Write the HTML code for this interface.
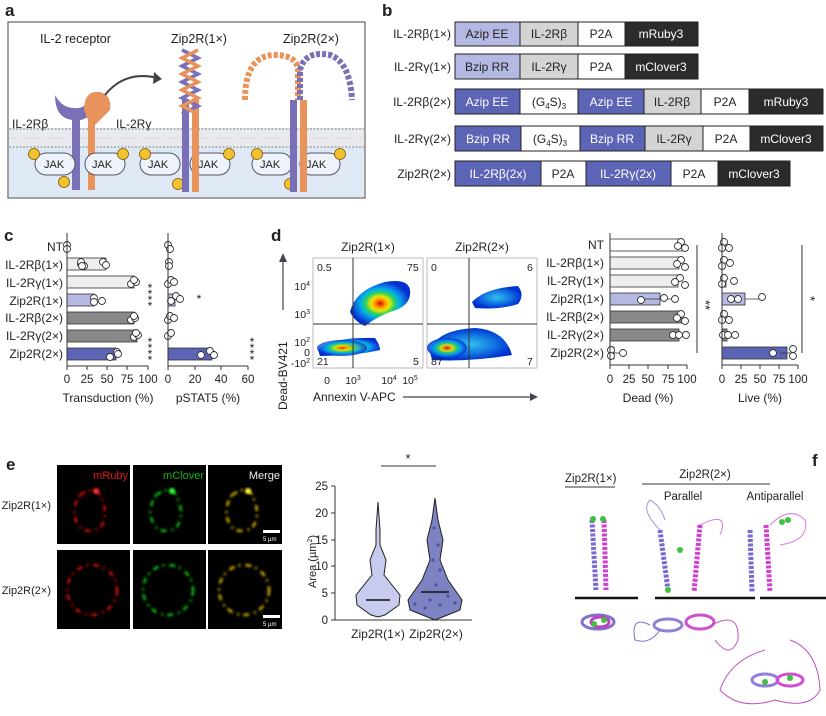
<!DOCTYPE html>
<html><head><meta charset="utf-8"><style>
body{margin:0;background:#fff}
text{font-family:"Liberation Sans",sans-serif;fill:#222}
</style></head><body>
<svg width="826" height="711" viewBox="0 0 826 711" xmlns="http://www.w3.org/2000/svg">
<defs>
<radialGradient id="fl" cx="50%" cy="50%" r="50%">
<stop offset="0" stop-color="#e00000"/><stop offset="0.18" stop-color="#ff9900"/><stop offset="0.32" stop-color="#e8e800"/><stop offset="0.48" stop-color="#30d060"/><stop offset="0.65" stop-color="#00b0e8"/><stop offset="0.85" stop-color="#1060e0"/><stop offset="1" stop-color="#0030d0"/>
</radialGradient>
<radialGradient id="fl2" cx="50%" cy="50%" r="50%">
<stop offset="0" stop-color="#30c0f0"/><stop offset="0.6" stop-color="#1070e0"/><stop offset="1" stop-color="#0030d0"/>
</radialGradient>
<filter id="bl"><feGaussianBlur stdDeviation="1.2"/></filter>
</defs>
<g font-size="12">
<text x="5" y="16" font-size="17" font-weight="bold">a</text>
<text x="382" y="16" font-size="17" font-weight="bold">b</text>
<text x="4" y="241" font-size="17" font-weight="bold">c</text>
<text x="271" y="241" font-size="17" font-weight="bold">d</text>
<text x="6" y="470" font-size="17" font-weight="bold">e</text>
<text x="812" y="466" font-size="17" font-weight="bold">f</text>

<!-- Panel a -->
<rect x="8" y="22" width="357" height="176" fill="#fff" stroke="#444" stroke-width="1"/>
<rect x="9" y="148" width="355" height="49" fill="#dfe9f6"/>
<rect x="9" y="128" width="355" height="20" fill="#e8eaee"/>
<line x1="9" y1="129" x2="364" y2="129" stroke="#9aa" stroke-width="1.5" stroke-dasharray="2 1.5"/>
<line x1="9" y1="147" x2="364" y2="147" stroke="#9aa" stroke-width="1.5" stroke-dasharray="2 1.5"/>
<line x1="9" y1="138" x2="364" y2="138" stroke="#bbb" stroke-width="0.8" stroke-dasharray="1 2"/>
<text x="40" y="43" font-size="12.5">IL-2 receptor</text>
<text x="171" y="43" font-size="12.5">Zip2R(1×)</text>
<text x="283" y="43" font-size="12.5">Zip2R(2×)</text>
<path d="M55 95 Q55 118 72 120 L72 190 L80 190 L80 120 Q95 118 93 95 Q85 110 74 108 Q62 108 55 95Z" fill="#7a70b8"/>
<path d="M84 110 Q84 90 100 92 Q112 95 110 110 L95 125 L95 190 L88 190 L88 120Z" fill="#e8935c"/>
<text x="12" y="128" font-size="12">IL-2Rβ</text>
<text x="116" y="128" font-size="12">IL-2Rγ</text>
<path d="M105 95 Q125 70 158 78" fill="none" stroke="#444" stroke-width="2"/>
<path d="M154 72 L162 79 L153 84Z" fill="#444"/>
<g font-size="11">
<rect x="35" y="153" width="40" height="22" rx="11" fill="#eef3fb" stroke="#556" /><text x="44" y="168">JAK</text>
<rect x="85" y="153" width="40" height="22" rx="11" fill="#eef3fb" stroke="#556" /><text x="92" y="168">JAK</text>
<rect x="140" y="153" width="40" height="22" rx="11" fill="#eef3fb" stroke="#556" /><text x="148" y="168">JAK</text>
<rect x="190" y="153" width="40" height="22" rx="11" fill="#eef3fb" stroke="#556" /><text x="198" y="168">JAK</text>
<rect x="252" y="153" width="40" height="22" rx="11" fill="#eef3fb" stroke="#556" /><text x="260" y="168">JAK</text>
<rect x="300" y="153" width="40" height="22" rx="11" fill="#eef3fb" stroke="#556" /><text x="306" y="168">JAK</text>
</g>
<g fill="#f2c230" stroke="#7a5a00" stroke-width="0.8">
<circle cx="34" cy="154" r="5.5"/><circle cx="123" cy="154" r="5.5"/><circle cx="64" cy="182" r="5.5"/>
<circle cx="145" cy="154" r="5.5"/><circle cx="229" cy="154" r="5.5"/><circle cx="178" cy="184" r="5.5"/>
<circle cx="257" cy="154" r="5.5"/><circle cx="340" cy="154" r="5.5"/><circle cx="290" cy="184" r="5.5"/>
</g>
<rect x="182" y="100" width="7" height="92" fill="#7a70b8"/><rect x="192" y="100" width="7" height="92" fill="#e8935c"/>
<path d="M182 50 l16 8 l-16 8 l16 8 l-16 8 l16 8 l-16 8 l16 8 l-16 8" fill="none" stroke="#7a70b8" stroke-width="3.5"/>
<path d="M198 50 l-16 8 l16 8 l-16 8 l16 8 l-16 8 l16 8 l-16 8 l16 8" fill="none" stroke="#e8935c" stroke-width="3.5"/>
<rect x="290" y="100" width="7" height="92" fill="#7a70b8"/><rect x="300" y="100" width="7" height="92" fill="#e8935c"/>
<path d="M245 100 Q245 55 275 55 Q300 55 298 75 L298 100" fill="none" stroke="#e8935c" stroke-width="6" stroke-dasharray="4 2"/>
<path d="M300 100 L300 70 Q305 50 330 55 Q350 62 352 100" fill="none" stroke="#7a70b8" stroke-width="6" stroke-dasharray="4 2"/>

<!-- Panel b -->
<g font-size="12" text-anchor="middle">
<g text-anchor="end"><text x="451" y="38">IL-2Rβ(1×)</text><text x="451" y="71">IL-2Rγ(1×)</text><text x="451" y="106">IL-2Rβ(2×)</text><text x="451" y="143">IL-2Rγ(2×)</text><text x="451" y="178">Zip2R(2×)</text></g>
<g stroke="#222" stroke-width="1">
<rect x="455" y="22" width="65" height="24" fill="#b5b8e2"/><rect x="520" y="22" width="58" height="24" fill="#d4d4d4"/><rect x="578" y="22" width="47" height="24" fill="#fff"/><rect x="625" y="22" width="73" height="24" fill="#2b2b2b"/>
<rect x="455" y="54" width="65" height="25" fill="#b5b8e2"/><rect x="520" y="54" width="58" height="25" fill="#d4d4d4"/><rect x="578" y="54" width="47" height="25" fill="#fff"/><rect x="625" y="54" width="73" height="25" fill="#2b2b2b"/>
<rect x="455" y="89" width="65" height="25" fill="#5c64b6"/><rect x="520" y="89" width="58" height="25" fill="#fff"/><rect x="578" y="89" width="66" height="25" fill="#5c64b6"/><rect x="644" y="89" width="57" height="25" fill="#d4d4d4"/><rect x="701" y="89" width="48" height="25" fill="#fff"/><rect x="749" y="89" width="74" height="25" fill="#2b2b2b"/>
<rect x="455" y="126" width="66" height="25" fill="#5c64b6"/><rect x="521" y="126" width="59" height="25" fill="#fff"/><rect x="580" y="126" width="65" height="25" fill="#5c64b6"/><rect x="645" y="126" width="58" height="25" fill="#d4d4d4"/><rect x="703" y="126" width="47" height="25" fill="#fff"/><rect x="750" y="126" width="73" height="25" fill="#2b2b2b"/>
<rect x="455" y="161" width="86" height="25" fill="#5c64b6"/><rect x="541" y="161" width="45" height="25" fill="#fff"/><rect x="586" y="161" width="85" height="25" fill="#5c64b6"/><rect x="671" y="161" width="47" height="25" fill="#fff"/><rect x="718" y="161" width="72" height="25" fill="#2b2b2b"/>
</g>
<text x="487" y="38">Azip EE</text><text x="549" y="38">IL-2Rβ</text><text x="601" y="38">P2A</text><text x="661" y="38" style="fill:#fff">mRuby3</text>
<text x="487" y="71">Bzip RR</text><text x="549" y="71">IL-2Rγ</text><text x="601" y="71">P2A</text><text x="661" y="71" style="fill:#fff">mClover3</text>
<text x="487" y="106" style="fill:#fff">Azip EE</text><text x="549" y="106">(G<tspan font-size="8" dy="3">4</tspan><tspan dy="-3">S)</tspan><tspan font-size="8" dy="3">3</tspan></text><text x="611" y="106" style="fill:#fff">Azip EE</text><text x="672" y="106">IL-2Rβ</text><text x="725" y="106">P2A</text><text x="786" y="106" style="fill:#fff">mRuby3</text>
<text x="488" y="143" style="fill:#fff">Bzip RR</text><text x="550" y="143">(G<tspan font-size="8" dy="3">4</tspan><tspan dy="-3">S)</tspan><tspan font-size="8" dy="3">3</tspan></text><text x="612" y="143" style="fill:#fff">Bzip RR</text><text x="674" y="143">IL-2Rγ</text><text x="726" y="143">P2A</text><text x="786" y="143" style="fill:#fff">mClover3</text>
<text x="498" y="178" style="fill:#fff">IL-2Rβ(2x)</text><text x="563" y="178">P2A</text><text x="628" y="178" style="fill:#fff">IL-2Rγ(2x)</text><text x="694" y="178">P2A</text><text x="754" y="178" style="fill:#fff">mClover3</text>
</g>

<!-- Panel c -->
<g font-size="12">
<g text-anchor="end"><text x="63" y="251">NT</text><text x="63" y="269">IL-2Rβ(1×)</text><text x="63" y="287">IL-2Rγ(1×)</text><text x="63" y="305">Zip2R(1×)</text><text x="63" y="322">IL-2Rβ(2×)</text><text x="63" y="340">IL-2Rγ(2×)</text><text x="63" y="358">Zip2R(2×)</text></g>
<g stroke="#333" stroke-width="0.8">
<rect x="67" y="258" width="39" height="12" fill="#eee"/><rect x="67" y="276" width="67" height="12" fill="#eee"/><rect x="67" y="294" width="27" height="12" fill="#b5b8e2"/><rect x="67" y="312" width="67" height="12" fill="#888"/><rect x="67" y="330" width="70" height="12" fill="#888"/><rect x="67" y="348" width="49" height="12" fill="#5c64b6"/>
<rect x="168" y="294" width="7" height="12" fill="#b5b8e2"/><rect x="168" y="348" width="44" height="12" fill="#5c64b6"/>
</g>
<g fill="#fff" stroke="#333" stroke-width="0.9">
<circle cx="67" cy="245" r="3.5"/><circle cx="67" cy="249" r="3.5"/><circle cx="81" cy="264" r="3.5"/><circle cx="84" cy="266" r="3.5"/><circle cx="81" cy="262" r="3.5"/>
<circle cx="82" cy="266" r="3.5"/><circle cx="103" cy="262" r="3.5"/><circle cx="106" cy="265" r="3.5"/>
<circle cx="131" cy="284" r="3.5"/><circle cx="136" cy="282" r="3.5"/><circle cx="134" cy="280" r="3.5"/>
<circle cx="94" cy="298" r="3.5"/><circle cx="94" cy="302" r="3.5"/><circle cx="102" cy="301" r="3.5"/>
<circle cx="131" cy="320" r="3.5"/><circle cx="135" cy="318" r="3.5"/><circle cx="134" cy="316" r="3.5"/>
<circle cx="134" cy="337" r="3.5"/><circle cx="138" cy="335" r="3.5"/><circle cx="136" cy="333" r="3.5"/>
<circle cx="110" cy="357" r="3.5"/><circle cx="117" cy="352" r="3.5"/><circle cx="118" cy="354" r="3.5"/>
<circle cx="168" cy="245" r="3.5"/><circle cx="170" cy="249" r="3.5"/><circle cx="169" cy="262" r="3.5"/><circle cx="169" cy="266" r="3.5"/>
<circle cx="168" cy="284" r="3.5"/><circle cx="171" cy="280" r="3.5"/><circle cx="174" cy="282" r="3.5"/>
<circle cx="171" cy="301" r="3.5"/><circle cx="176" cy="296" r="3.5"/><circle cx="180" cy="299" r="3.5"/>
<circle cx="168" cy="320" r="3.5"/><circle cx="170" cy="316" r="3.5"/><circle cx="174" cy="318" r="3.5"/>
<circle cx="168" cy="336" r="3.5"/><circle cx="171" cy="333" r="3.5"/>
<circle cx="201" cy="355" r="3.5"/><circle cx="210" cy="351" r="3.5"/><circle cx="214" cy="355" r="3.5"/>
</g>
<g stroke="#333" stroke-width="1" fill="none">
<path d="M67 233V366H148M67 366v4M87 366v4M107 366v4M127 366v4M148 366v4"/>
<path d="M168 233V366H248M168 366v4M195 366v4M221 366v4M248 366v4"/>
</g>
<g text-anchor="middle" font-size="11.5"><text x="67" y="383">0</text><text x="87" y="383">25</text><text x="107" y="383">50</text><text x="127" y="383">75</text><text x="148" y="383">100</text>
<text x="168" y="383">0</text><text x="195" y="383">20</text><text x="221" y="383">40</text><text x="248" y="383">60</text></g>
<text x="108" y="402" text-anchor="middle">Transduction (%)</text><text x="208" y="402" text-anchor="middle">pSTAT5 (%)</text>
<g font-size="12" text-anchor="middle"><text x="150" y="292">*</text><text x="150" y="298">*</text><text x="150" y="304">*</text><text x="150" y="310">*</text>
<text x="150" y="346">*</text><text x="150" y="352">*</text><text x="150" y="358">*</text><text x="150" y="364">*</text>
<text x="199" y="303">*</text>
<text x="252" y="346">*</text><text x="252" y="352">*</text><text x="252" y="358">*</text><text x="252" y="364">*</text></g>
</g>

<!-- Panel d flow -->
<g font-size="12">
<text x="368" y="251" text-anchor="middle">Zip2R(1×)</text><text x="482" y="251" text-anchor="middle">Zip2R(2×)</text>
<rect x="313" y="258" width="110" height="110" fill="#fff" stroke="#bbb"/>
<rect x="427" y="258" width="110" height="110" fill="#fff" stroke="#bbb"/>
<path d="M350 312 Q355 290 385 282 Q408 278 410 290 Q412 306 390 312 Q375 318 365 326 Q355 322 350 312Z" fill="url(#fl)"/>
<path d="M318 350 Q330 337 375 338 Q380 345 380 350 Q360 355 320 356Z" fill="url(#fl)"/>
<ellipse cx="342" cy="348" rx="25" ry="8" fill="url(#fl)" opacity="0.8"/>
<path d="M472 302 Q485 288 518 286 Q525 295 518 304 Q500 310 475 308Z" fill="url(#fl2)"/>
<path d="M430 352 Q435 330 475 328 Q505 330 512 355 Q470 362 432 360Z" fill="url(#fl2)"/>
<ellipse cx="447" cy="348" rx="20" ry="10" fill="url(#fl)" opacity="0.9"/>
<g stroke="#333" stroke-width="1"><line x1="353" y1="258" x2="353" y2="368"/><line x1="313" y1="324" x2="423" y2="324"/><line x1="469" y1="258" x2="469" y2="368"/><line x1="427" y1="324" x2="537" y2="324"/></g>
<g font-size="10.5"><text x="317" y="271">0.5</text><text x="407" y="271">75</text><text x="317" y="365">21</text><text x="413" y="365">5</text>
<text x="431" y="271">0</text><text x="527" y="271">6</text><text x="431" y="365">87</text><text x="527" y="365">7</text></g>
<g font-size="10.5" text-anchor="end"><text x="310" y="290">10<tspan font-size="7" dy="-4">4</tspan></text><text x="310" y="318">10<tspan font-size="7" dy="-4">3</tspan></text><text x="310" y="346">10<tspan font-size="7" dy="-4">2</tspan></text><text x="310" y="356">0</text><text x="310" y="367">-10<tspan font-size="7" dy="-4">2</tspan></text></g>
<g font-size="10.5" text-anchor="middle"><text x="327" y="384">0</text><text x="353" y="384">10<tspan font-size="7" dy="-4">3</tspan></text><text x="389" y="384">10<tspan font-size="7" dy="-4">4</tspan></text><text x="410" y="384">10<tspan font-size="7" dy="-4">5</tspan></text></g>
<text x="313" y="401">Annexin V-APC</text>
<line x1="403" y1="397" x2="532" y2="397" stroke="#445" stroke-width="1.2"/><path d="M538 397 L530 393 L530 401Z" fill="#445"/>
<text transform="translate(287,410) rotate(-90)">Dead-BV421</text>
<line x1="283" y1="310" x2="283" y2="260" stroke="#445" stroke-width="1.2"/><path d="M283 253 L279 262 L287 262Z" fill="#445"/>
</g>

<!-- Dead / Live -->
<g font-size="12">
<g text-anchor="end"><text x="604" y="249">NT</text><text x="604" y="267">IL-2Rβ(1×)</text><text x="604" y="285">IL-2Rγ(1×)</text><text x="604" y="303">Zip2R(1×)</text><text x="604" y="321">IL-2Rβ(2×)</text><text x="604" y="339">IL-2Rγ(2×)</text><text x="604" y="357">Zip2R(2×)</text></g>
<g stroke="#333" stroke-width="0.8">
<rect x="610" y="239" width="72" height="12" fill="#fff"/><rect x="610" y="257" width="69" height="12" fill="#eee"/><rect x="610" y="275" width="68" height="12" fill="#eee"/><rect x="610" y="293" width="50" height="12" fill="#b5b8e2"/><rect x="610" y="311" width="72" height="12" fill="#888"/><rect x="610" y="329" width="69" height="12" fill="#888"/><rect x="610" y="347" width="4" height="12" fill="#888"/>
<rect x="722" y="239" width="2" height="12" fill="#fff"/><rect x="722" y="257" width="2" height="12" fill="#eee"/><rect x="722" y="275" width="4" height="12" fill="#eee"/><rect x="722" y="293" width="23" height="12" fill="#b5b8e2"/><rect x="722" y="311" width="2" height="12" fill="#888"/><rect x="722" y="329" width="5" height="12" fill="#888"/><rect x="722" y="347" width="65" height="12" fill="#5c64b6"/>
</g>
<g stroke="#333" stroke-width="0.8"><line x1="641" y1="299" x2="678" y2="299"/><line x1="745" y1="299" x2="762" y2="299"/><line x1="780" y1="353" x2="794" y2="353"/><line x1="610" y1="353" x2="625" y2="353"/></g>
<g fill="#fff" stroke="#333" stroke-width="0.9">
<circle cx="681" cy="242" r="3.5"/><circle cx="678" cy="246" r="3.5"/><circle cx="685" cy="248" r="3.5"/>
<circle cx="681" cy="260" r="3.5"/><circle cx="677" cy="264" r="3.5"/><circle cx="685" cy="267" r="3.5"/>
<circle cx="680" cy="278" r="3.5"/><circle cx="675" cy="282" r="3.5"/><circle cx="685" cy="285" r="3.5"/>
<circle cx="641" cy="300" r="3.5"/><circle cx="664" cy="298" r="3.5"/><circle cx="675" cy="299" r="3.5"/>
<circle cx="681" cy="314" r="3.5"/><circle cx="677" cy="318" r="3.5"/><circle cx="685" cy="321" r="3.5"/>
<circle cx="673" cy="335" r="3.5"/><circle cx="679" cy="335" r="3.5"/><circle cx="686" cy="335" r="3.5"/>
<circle cx="611" cy="350" r="3.5"/><circle cx="611" cy="356" r="3.5"/><circle cx="623" cy="353" r="3.5"/>
<circle cx="724" cy="242" r="3.5"/><circle cx="722" cy="248" r="3.5"/><circle cx="729" cy="248" r="3.5"/>
<circle cx="724" cy="260" r="3.5"/><circle cx="722" cy="266" r="3.5"/><circle cx="730" cy="263" r="3.5"/>
<circle cx="724" cy="278" r="3.5"/><circle cx="722" cy="284" r="3.5"/><circle cx="734" cy="281" r="3.5"/>
<circle cx="731" cy="299" r="3.5"/><circle cx="738" cy="299" r="3.5"/><circle cx="762" cy="297" r="3.5"/>
<circle cx="724" cy="314" r="3.5"/><circle cx="722" cy="320" r="3.5"/><circle cx="729" cy="320" r="3.5"/>
<circle cx="723" cy="335" r="3.5"/><circle cx="728" cy="335" r="3.5"/><circle cx="735" cy="335" r="3.5"/>
<circle cx="773" cy="353" r="3.5"/><circle cx="793" cy="349" r="3.5"/><circle cx="793" cy="356" r="3.5"/>
</g>
<g stroke="#333" stroke-width="1" fill="none">
<path d="M610 233V365H687M610 365v4M629 365v4M648 365v4M668 365v4M687 365v4"/>
<path d="M722 233V365H798M722 365v4M741 365v4M760 365v4M779 365v4M798 365v4"/>
<line x1="697" y1="245" x2="697" y2="353"/><line x1="802" y1="245" x2="802" y2="353"/>
</g>
<g text-anchor="middle" font-size="11.5"><text x="610" y="383">0</text><text x="629" y="383">25</text><text x="648" y="383">50</text><text x="668" y="383">75</text><text x="687" y="383">100</text>
<text x="722" y="383">0</text><text x="741" y="383">25</text><text x="760" y="383">50</text><text x="779" y="383">75</text><text x="798" y="383">100</text></g>
<text x="648" y="402" text-anchor="middle">Dead (%)</text><text x="760" y="402" text-anchor="middle">Live (%)</text>
<text transform="translate(701,300) rotate(90)" font-size="13">**</text>
<text transform="translate(806,296) rotate(90)" font-size="13">*</text>
</g>

<!-- Panel e microscopy -->
<g>
<rect x="57" y="465" width="73" height="79" fill="#000"/><rect x="133" y="465" width="73" height="79" fill="#000"/><rect x="208" y="465" width="74" height="79" fill="#000"/>
<rect x="57" y="550" width="73" height="79" fill="#000"/><rect x="133" y="550" width="73" height="79" fill="#000"/><rect x="208" y="550" width="74" height="79" fill="#000"/>
<g fill="none" stroke-width="2.5" filter="url(#bl)" stroke-dasharray="6 4 2 5">
<path d="M80 495 Q95 485 100 495 Q110 515 100 528 Q85 535 78 525 Q70 510 80 495Z" stroke="#d01010"/>
<path d="M156 495 Q171 485 176 495 Q186 515 176 528 Q161 535 154 525 Q146 510 156 495Z" stroke="#10c010"/>
<path d="M232 495 Q247 485 252 495 Q262 515 252 528 Q237 535 230 525 Q222 510 232 495Z" stroke="#d0b000"/>
<circle cx="92" cy="590" r="25" stroke="#d01010"/><circle cx="168" cy="590" r="25" stroke="#10c010"/><circle cx="244" cy="590" r="25" stroke="#d0b000"/>
</g>
<circle cx="96" cy="491" r="3" fill="#ff3030" filter="url(#bl)"/><circle cx="172" cy="491" r="3" fill="#30ff30" filter="url(#bl)"/><circle cx="248" cy="491" r="3" fill="#ffff30" filter="url(#bl)"/>
<g font-size="11" text-anchor="end"><text x="128" y="479" style="fill:#e01818">mRuby</text><text x="204" y="479" style="fill:#18b018">mClover</text><text x="280" y="479" style="fill:#eee">Merge</text></g>
<rect x="263" y="530" width="17" height="3" fill="#fff"/><rect x="263" y="615" width="17" height="3" fill="#fff"/>
<text x="263" y="541" font-size="6" style="fill:#fff">5 µm</text><text x="263" y="626" font-size="6" style="fill:#fff">5 µm</text>
<g text-anchor="end" font-size="11"><text x="51" y="509">Zip2R(1×)</text><text x="51" y="594">Zip2R(2×)</text></g>
</g>

<!-- Violin -->
<g font-size="11.5">
<line x1="381" y1="466" x2="436" y2="466" stroke="#333"/><text x="408" y="463" text-anchor="middle" font-size="13">*</text>
<path d="M335 486V620H472M335 486h-4M335 513h-4M335 540h-4M335 566h-4M335 593h-4M335 620h-4" stroke="#333" fill="none"/>
<g text-anchor="end"><text x="328" y="490">25</text><text x="328" y="517">20</text><text x="328" y="544">15</text><text x="328" y="570">10</text><text x="328" y="597">5</text><text x="328" y="624">0</text></g>
<text transform="translate(316,588) rotate(-90)" font-size="11">Area (µm<tspan font-size="7" dy="-4">2</tspan><tspan dy="4">)</tspan></text>
<path d="M378 502 L380 530 L380 545 L386 560 L384 575 L400 595 L399 605 L385 615 L378 617 L371 615 L357 605 L356 595 L372 575 L370 560 L376 545 L376 530Z" fill="#c9cbee" stroke="#222" stroke-width="1"/>
<path d="M435 498 L438 520 L443 540 L440 560 L448 580 L462 600 L460 610 L445 616 L435 620 L425 616 L410 610 L408 600 L422 580 L430 560 L427 540 L432 520Z" fill="#7d82c2" stroke="#222" stroke-width="1"/>
<g fill="#3a3f88" opacity="0.7">
<circle cx="430" cy="600" r="1.6"/><circle cx="440" cy="605" r="1.6"/><circle cx="425" cy="608" r="1.6"/><circle cx="448" cy="596" r="1.6"/><circle cx="436" cy="585" r="1.6"/><circle cx="433" cy="560" r="1.6"/><circle cx="438" cy="545" r="1.6"/><circle cx="415" cy="604" r="1.6"/><circle cx="455" cy="603" r="1.6"/><circle cx="440" cy="570" r="1.6"/><circle cx="434" cy="528" r="1.6"/>
</g>
<line x1="366" y1="600" x2="390" y2="600" stroke="#111" stroke-width="1.5"/><line x1="421" y1="592" x2="449" y2="592" stroke="#111" stroke-width="1.5"/>
<g text-anchor="middle" font-size="12"><text x="378" y="638">Zip2R(1×)</text><text x="436" y="638">Zip2R(2×)</text></g>
</g>

<!-- Panel f -->
<g font-size="11.5">
<text x="565" y="482">Zip2R(1×)</text><line x1="565" y1="487" x2="615" y2="487" stroke="#333"/>
<text x="705" y="478" text-anchor="middle">Zip2R(2×)</text><line x1="642" y1="484" x2="770" y2="484" stroke="#333"/>
<text x="683" y="500" text-anchor="middle">Parallel</text><text x="775" y="500" text-anchor="middle">Antiparallel</text>
<g fill="none" stroke-width="5" stroke-dasharray="3 1.5">
<path d="M592 520 L596 590" stroke="#7a68d0"/><path d="M604 520 L606 590" stroke="#d040d0"/>
<path d="M660 530 L668 590" stroke="#7a68d0"/><path d="M700 525 L694 592" stroke="#d040d0"/>
<path d="M750 530 L752 592" stroke="#7a68d0"/><path d="M766 525 L770 592" stroke="#d040d0"/>
</g>
<g fill="none" stroke-width="1" opacity="0.7">
<path d="M660 530 Q640 510 650 500 Q660 505 665 520" stroke="#7a68d0"/><path d="M700 525 Q730 510 720 535" stroke="#d040d0"/><path d="M770 525 Q790 505 805 520 Q810 540 780 545" stroke="#d040d0"/>
</g>
<g fill="#40c040"><circle cx="593" cy="519" r="3"/><circle cx="603" cy="519" r="3"/><circle cx="680" cy="550" r="3"/><circle cx="668" cy="590" r="3"/><circle cx="782" cy="522" r="3"/><circle cx="788" cy="520" r="3"/></g>
<g stroke="#111" stroke-width="2.5"><line x1="575" y1="598" x2="638" y2="598"/><line x1="655" y1="598" x2="755" y2="598"/><line x1="760" y1="598" x2="826" y2="598"/></g>
<g fill="none" stroke-width="3">
<ellipse cx="598" cy="622" rx="16" ry="7" stroke="#8070d0"/><ellipse cx="600" cy="622" rx="9" ry="5" stroke="#c040c0"/>
<ellipse cx="668" cy="625" rx="14" ry="6" stroke="#9080d8"/><ellipse cx="700" cy="622" rx="14" ry="7" stroke="#d050d0"/>
<ellipse cx="765" cy="680" rx="13" ry="6" stroke="#9080d8"/><ellipse cx="790" cy="680" rx="13" ry="6" stroke="#d050d0"/>
</g>
<g fill="none" stroke="#c050c0" stroke-width="1"><path d="M712 625 Q740 610 738 640 Q730 660 715 640"/><path d="M765 650 Q730 660 720 690 Q740 711 775 700 Q810 710 820 690 Q818 650 790 640"/></g>
<g fill="none" stroke="#8070d0" stroke-width="1"><path d="M650 625 Q630 615 635 640 Q650 645 660 630"/></g>
<g fill="#40c040"><circle cx="594" cy="624" r="3"/><circle cx="604" cy="620" r="3"/><circle cx="765" cy="682" r="3"/><circle cx="790" cy="678" r="3"/></g>
</g>
</g>
</svg>
</body></html>
